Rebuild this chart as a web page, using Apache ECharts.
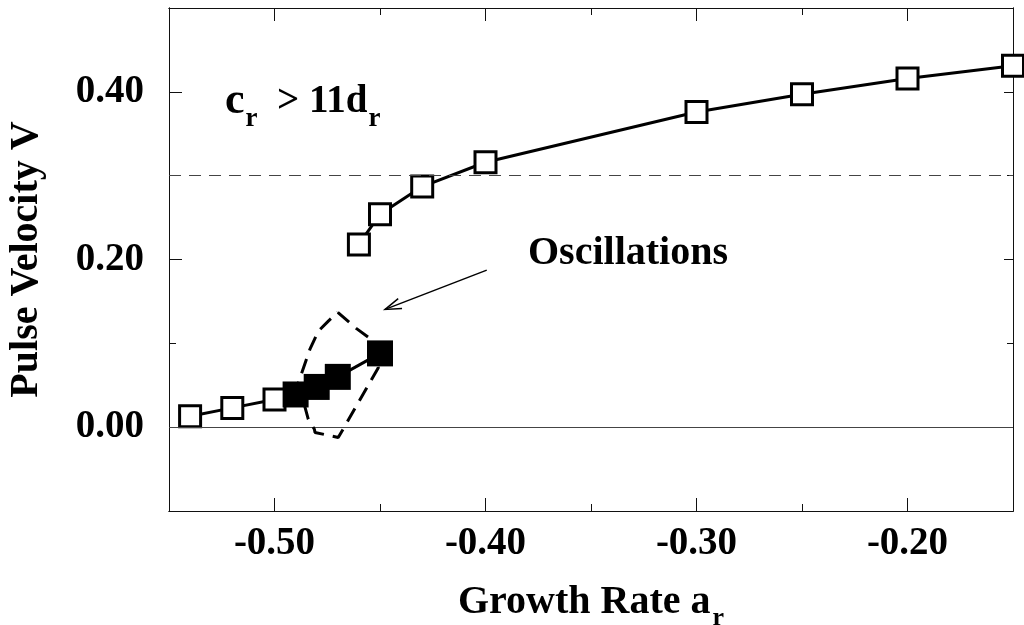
<!DOCTYPE html>
<html><head><meta charset="utf-8">
<script src="https://cdn.jsdelivr.net/npm/echarts@6/dist/echarts.min.js"></script>
<style>html,body{margin:0;padding:0;background:#fff}#c{width:1024px;height:625px}</style>
</head><body><div id="c"></div>
<script>
// ---- data ----
const upperX = [-0.46, -0.45, -0.43, -0.40, -0.30, -0.25, -0.20, -0.15];
const upperV = [0.218, 0.254, 0.287, 0.316, 0.376, 0.397, 0.416, 0.431];
const lowerOpenX = [-0.54, -0.52, -0.50];
const lowerOpenV = [0.013, 0.023, 0.033];
const filledX = [-0.49, -0.48, -0.47, -0.45];
const filledV = [0.039, 0.048, 0.060, 0.088];
const loopX = [-0.4700, -0.4611, -0.4532, -0.4508, -0.4666, -0.4698, -0.4808, -0.4811, -0.4840, -0.4887, -0.4832, -0.4792, -0.4745, -0.4700];
const loopV = [0.137, 0.1175, 0.103, 0.071, 0.0015, -0.0123, -0.0063, -0.0024, 0.0095, 0.053, 0.093, 0.1146, 0.1265, 0.137];
const arrowFrom = [-0.3994, 0.1873];
const arrowTo = [-0.4476, 0.1405];
const xMajorTicks = [-0.50, -0.40, -0.30, -0.20];
const xMinorTicks = [-0.45, -0.35, -0.25];
const yMajorTicks = [0.00, 0.20, 0.40];
const yMinorTicks = [0.10, 0.30];
const refSolidV = 0.0;
const refDashedV = 0.3;
const xTitle = 'Growth Rate a';
const yTitle = 'Pulse Velocity V';
const annotationText = 'Oscillations';

const pairs = (xs, ys) => xs.map((x, i) => [x, ys[i]]);
const FONT = "'Liberation Serif','Times New Roman',serif";

const chart = echarts.init(document.getElementById('c'), null, {renderer: 'canvas'});

function xAxisDef(pos, ticks, len, withLabels) {
  return {
    type: 'value', position: pos, min: -0.55, max: -0.15, gridIndex: 0,
    axisLine: {show: true, onZero: false, lineStyle: {color: '#111', width: 1}},
    axisTick: {show: true, inside: true, length: len, customValues: ticks, lineStyle: {color: '#111', width: 1}},
    axisLabel: withLabels ? {
      show: true, customValues: ticks, margin: 13,
      formatter: v => v.toFixed(2),
      fontFamily: FONT, fontWeight: 'bold', fontSize: 39, color: '#000'
    } : {show: false},
    splitLine: {show: false}
  };
}
function yAxisDef(pos, ticks, len, withLabels) {
  return {
    type: 'value', position: pos, min: -0.1, max: 0.5, gridIndex: 0,
    axisLine: {show: true, onZero: false, lineStyle: {color: '#111', width: 1}},
    axisTick: {show: true, inside: true, length: len, customValues: ticks, lineStyle: {color: '#111', width: 1}},
    axisLabel: withLabels ? {
      show: true, customValues: ticks, margin: 25,
      formatter: v => v.toFixed(2),
      fontFamily: FONT, fontWeight: 'bold', fontSize: 39, color: '#000'
    } : {show: false},
    splitLine: {show: false}
  };
}

const xAxes = [
  Object.assign(xAxisDef('bottom', xMajorTicks, 13, true), {
    name: xTitle + '{s|r}', nameLocation: 'middle', nameGap: 64,
    nameTextStyle: {fontFamily: FONT, fontWeight: 'bold', fontSize: 40, color: '#000',
      rich: {s: {fontFamily: FONT, fontWeight: 'bold', fontSize: 26, color: '#000', padding: [30, 0, 0, 2]}}}
  }),
  xAxisDef('bottom', xMinorTicks, 7, false),
  xAxisDef('top', xMajorTicks, 13, false),
  xAxisDef('top', xMinorTicks, 7, false)
];
const yAxes = [
  Object.assign(yAxisDef('left', yMajorTicks, 13, true), {
    name: yTitle, nameLocation: 'middle', nameGap: 122, nameRotate: 90,
    nameTextStyle: {fontFamily: FONT, fontWeight: 'bold', fontSize: 40, color: '#000'}
  }),
  yAxisDef('left', yMinorTicks, 7, false),
  yAxisDef('right', yMajorTicks, 9, false),
  yAxisDef('right', yMinorTicks, 6, false)
];

const openSym = {color: '#fff', borderColor: '#000', borderWidth: 3, opacity: 1};

const option = {
  backgroundColor: '#fff',
  animation: false,
  grid: {left: 169, right: 11, top: 8, bottom: 114, containLabel: false, outerBoundsMode: 'none'},
  xAxis: xAxes,
  yAxis: yAxes,
  graphic: [
    {
      type: 'text', left: 528, top: 234, z: 10,
      style: {text: annotationText, fontFamily: FONT, fontWeight: 'bold', fontSize: 40, fill: '#000'}
    },
    {
      type: 'text', left: 225, top: 80, z: 10,
      style: {
        text: '{c|c}{s|r}{m|  > 11d}{s|r}',
        rich: {
          c: {fontFamily: FONT, fontWeight: 'bold', fontSize: 44, fill: '#000'},
          m: {fontFamily: FONT, fontWeight: 'bold', fontSize: 39, fill: '#000'},
          s: {fontFamily: FONT, fontWeight: 'bold', fontSize: 27, fill: '#000', padding: [34, 0, 0, 1]}
        }
      }
    }
  ],
  series: [
    {
      type: 'line', name: 'refs', data: [], z: 1, silent: true,
      markLine: {
        silent: true, symbol: 'none', label: {show: false},
        data: [
          {yAxis: refSolidV, lineStyle: {type: 'solid', color: '#444', width: 1}},
          {yAxis: refDashedV, lineStyle: {type: [12, 8], color: '#444', width: 1}}
        ]
      }
    },
    {
      type: 'line', name: 'upper', data: pairs(upperX, upperV), z: 3,
      symbol: 'rect', symbolSize: 21, showAllSymbol: true, clip: false,
      lineStyle: {color: '#000', width: 3}, itemStyle: openSym
    },
    {
      type: 'line', name: 'lowerLine', data: pairs(lowerOpenX.concat(filledX), lowerOpenV.concat(filledV)), z: 2,
      symbol: 'none', lineStyle: {color: '#000', width: 3}
    },
    {
      type: 'scatter', name: 'lowerOpen', data: pairs(lowerOpenX, lowerOpenV), z: 3,
      symbol: 'rect', symbolSize: 21, itemStyle: openSym
    },
    {
      type: 'scatter', name: 'filled', data: pairs(filledX, filledV), z: 4,
      symbol: 'rect', symbolSize: 26, itemStyle: {color: '#000', opacity: 1}
    },
    {
      type: 'line', name: 'loop', data: pairs(loopX, loopV), z: 5,
      symbol: 'none', lineStyle: {color: '#000', width: 3, type: [15, 9]}
    },
    {
      type: 'custom', name: 'arrow', z: 6,
      data: [[arrowFrom[0], arrowFrom[1], arrowTo[0], arrowTo[1]]],
      encode: {x: [0, 2], y: [1, 3]},
      renderItem: (params, api) => {
        const p0 = api.coord([api.value(0), api.value(1)]);
        const p1 = api.coord([api.value(2), api.value(3)]);
        const ang = Math.atan2(p0[1] - p1[1], p0[0] - p1[0]);
        const L = 17, a = 0.32;
        const w1 = [p1[0] + L * Math.cos(ang + a), p1[1] + L * Math.sin(ang + a)];
        const w2 = [p1[0] + L * Math.cos(ang - a), p1[1] + L * Math.sin(ang - a)];
        return {
          type: 'group', children: [
            {type: 'line', shape: {x1: p0[0], y1: p0[1], x2: p1[0], y2: p1[1]}, style: {stroke: '#000', lineWidth: 1.5}},
            {type: 'polyline', shape: {points: [w1, p1, w2]}, style: {stroke: '#000', lineWidth: 1.5, fill: null}}
          ]
        };
      }
    }
  ]
};
chart.setOption(option);
</script>
</body></html>
